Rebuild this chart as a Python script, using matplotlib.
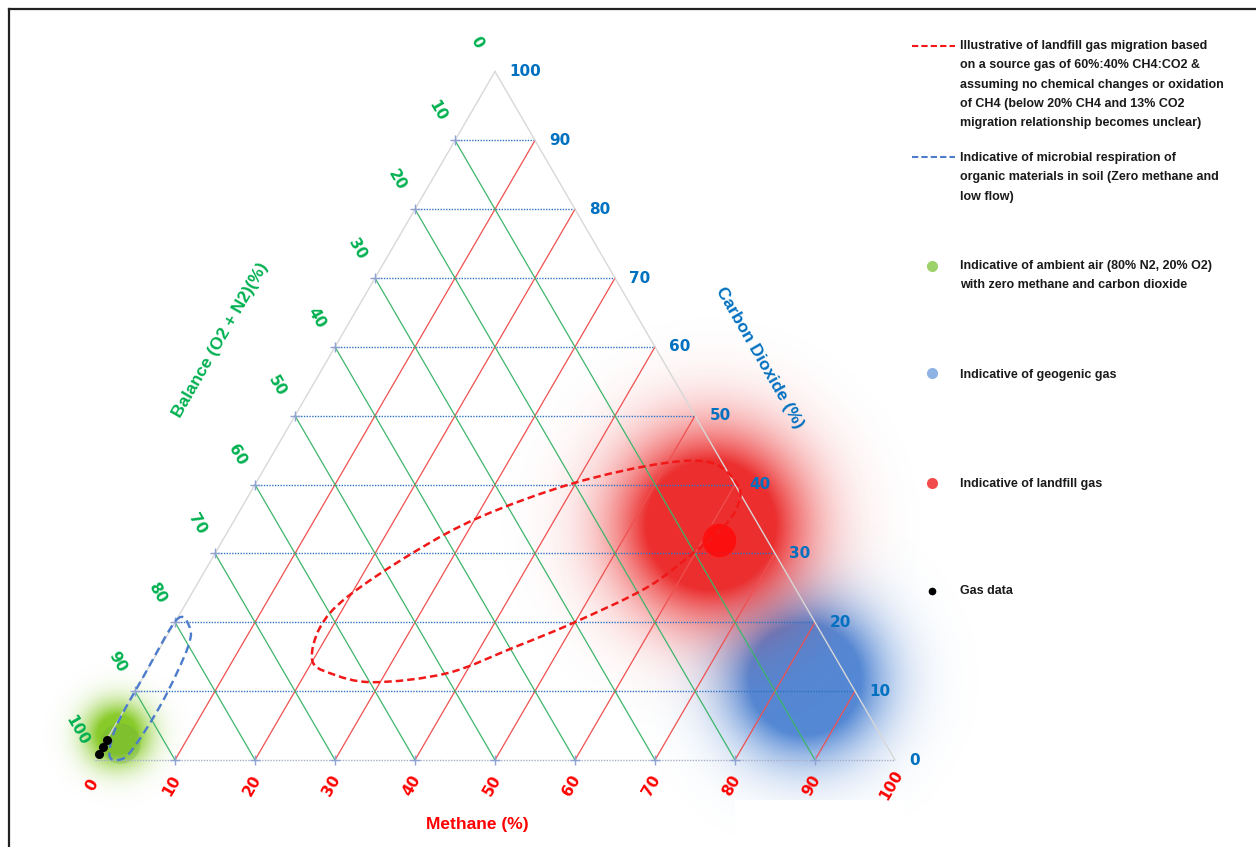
import numpy as np
import matplotlib
matplotlib.use("Agg")
import matplotlib.pyplot as plt
from matplotlib.path import Path
from matplotlib.patches import PathPatch, Rectangle
from matplotlib.lines import Line2D

# ---- data (ternary: methane %, carbon dioxide %) ----
ticks = [0, 10, 20, 30, 40, 50, 60, 70, 80, 90, 100]
grid_levels = [10, 20, 30, 40, 50, 60, 70, 80, 90]

# landfill gas migration envelope (red dashed loop)
mig_ch4 = [60.6, 55.7, 49.5, 39.7, 30.5, 24.7, 19.7, 18.5, 19.9, 23.1, 29.1, 37.7, 44.1, 49.8, 56.5, 60.0, 61.6, 61.9]
mig_co2 = [39.7, 43.1, 43.1, 40.2, 35.3, 30.1, 23.7, 19.3, 14.5, 12.6, 11.3, 12.6, 16.3, 19.9, 25.1, 30.5, 33.8, 36.7]

# microbial respiration envelope (blue dashed loop)
resp_ch4 = [0.0, 2.0, 3.4, 4.2, 3.9, 2.9, 1.4, 0.2, 0.0]
resp_co2 = [20.3, 19.5, 16.5, 8.5, 1.5, 0.0, 0.8, 5.0, 12.0]

# source gas
source_ch4 = 62
source_co2 = 32

# indicative zones (centre ch4, centre co2)
landfill_zone = (60, 34)
geogenic_zone = (83, 11.6)
air_zone = (0.9, 3.6)
air_core = (1.9, 2.5)

# gas data
gas_ch4 = [0.0, 0.0, 0.0]
gas_co2 = [0.9, 1.9, 2.9]

legend_entries = [
    ["Illustrative of landfill gas migration based",
     "on a source gas of 60%:40% CH4:CO2 &",
     "assuming no chemical changes or oxidation",
     "of CH4 (below 20% CH4 and 13% CO2",
     "migration relationship becomes unclear)"],
    ["Indicative of microbial respiration of",
     "organic materials in soil (Zero methane and",
     "low flow)"],
    ["Indicative of ambient air (80% N2, 20% O2)",
     "with zero methane and carbon dioxide"],
    ["Indicative of geogenic gas"],
    ["Indicative of landfill gas"],
    ["Gas data"],
]

RED = "#FF0000"
BLUE = "#0070C0"
GREEN = "#00B050"
H = np.sqrt(3) / 2


def tern(ch4, co2):
    ch4 = np.asarray(ch4, dtype=float)
    co2 = np.asarray(co2, dtype=float)
    return ch4 + co2 / 2, co2 * H


def smooth_closed(xs, ys):
    pts = np.column_stack([xs, ys])
    n = len(pts)
    verts = [pts[0]]
    codes = [Path.MOVETO]
    for i in range(n):
        p0, p1, p2, p3 = pts[i - 1], pts[i], pts[(i + 1) % n], pts[(i + 2) % n]
        verts += [p1 + (p2 - p0) / 6, p2 - (p3 - p1) / 6, p2]
        codes += [Path.CURVE4] * 3
    return Path(verts, codes)


W, HGT = 1256, 847
fig = plt.figure(figsize=(W / 100, HGT / 100), dpi=100)
ax = fig.add_axes([0, 0, 1, 1])
sx, sy = 8.0, 7.95
x0, y0 = 95, 760
ax.set_xlim(-x0 / sx, (W - x0) / sx)
ax.set_ylim(-(HGT - y0) / sy, y0 / sy)
ax.axis("off")

# ---- soft zones ----
xl, yl = ax.get_xlim(), ax.get_ylim()
gx, gy = np.meshgrid(np.linspace(xl[0], xl[1], 700), np.linspace(yl[0], yl[1], 480))


def blob(center, sigma, rgb, gain, amax, zorder):
    cx, cy = tern(*center)
    d2 = (gx - cx) ** 2 + (gy - cy) ** 2
    a = np.clip(gain * np.exp(-d2 / (2 * sigma ** 2)), 0, 1) * amax
    img = np.zeros(gx.shape + (4,))
    img[..., :3] = np.array(rgb) / 255
    img[..., 3] = a
    ax.imshow(img, extent=(xl[0], xl[1], yl[0], yl[1]), origin="lower",
              interpolation="bilinear", zorder=zorder, aspect="auto")


blob(geogenic_zone, 6.2, (75, 130, 210), 1.9, 0.95, 1)
blob(landfill_zone, 7.5, (235, 35, 35), 1.8, 0.95, 1.1)
blob(air_zone, 2.7, (130, 200, 30), 1.5, 0.95, 1.2)
ax.plot(*tern(*air_core), "o", ms=29, color="#6FAE3A", alpha=0.35, mec="none", zorder=1.3)
# white box clipping the bottom of the geogenic zone
ax.add_patch(Rectangle(((735 - x0) / sx, yl[0]), 170 / sx, -(800 - y0) / sy - yl[0],
                       color="white", lw=0, zorder=1.5))

# ---- grid ----
for c in grid_levels:
    xa, ya = tern([0, 100 - c], [c, c])
    ax.plot(xa, ya, color="#2F73C0", lw=1.0, ls=(0, (1, 1)), zorder=2)
for m in grid_levels:
    xa, ya = tern([m, m], [0, 100 - m])
    ax.plot(xa, ya, color="#F05050", lw=0.9, zorder=2)
    xa, ya = tern([m, 0], [0, m])
    ax.plot(xa, ya, color="#3DB56A", lw=0.9, zorder=2)

ex, ey = tern([0, 100, 0, 0], [0, 0, 100, 0])
ax.plot(ex[1:3], ey[1:3], color="#D8D8D8", lw=1.0, zorder=2)
ax.plot(ex[2:4], ey[2:4], color="#D8D8D8", lw=1.0, zorder=2)
ax.plot(ex[0:2], ey[0:2], color="#A8B0C8", lw=1.0, ls=(0, (1, 1)), zorder=2)

px, py = tern(np.zeros(len(grid_levels)), grid_levels)
ax.plot(px, py, "+", color="#8FA3D3", ms=7, mew=1, zorder=2.5)
px, py = tern(grid_levels, np.zeros(len(grid_levels)))
ax.plot(px, py, "+", color="#8FA3D3", ms=7, mew=1, zorder=2.5)

# ---- tick labels ----
lab_font = dict(fontsize=11, fontweight="bold", family="DejaVu Sans")
for t in ticks:
    x, y = tern(100 - t, t)
    ax.text(x + 1.8, y, str(t), color=BLUE, ha="left", va="center", **lab_font)
    x, y = tern(t, 0)
    ax.text(x - 0.4, y - 3.2, str(t), color=RED, ha="center", va="center", rotation=60, **lab_font)
    x, y = tern(0, 100 - t)
    ax.text(x - 2.25, y + 3.7, str(t), color=GREEN, ha="center", va="center", rotation=-60, **lab_font)

# ---- envelopes and points ----
mx, my = tern(mig_ch4, mig_co2)
ax.add_patch(PathPatch(smooth_closed(mx, my), fill=False, ec="#F01818", lw=1.8,
                       ls=(0, (3, 1.6)), zorder=4))
rx, ry = tern(resp_ch4, resp_co2)
ax.add_patch(PathPatch(smooth_closed(rx, ry), fill=False, ec="#4C7CCB", lw=1.7,
                       ls=(0, (3.5, 2)), zorder=4))
ax.plot(*tern(source_ch4, source_co2), "o", ms=25, color="#FF0A0A", alpha=0.85, mec="#F03030", zorder=3.5)
gxs, gys = tern(gas_ch4, gas_co2)
ax.plot(gxs, gys, "o", ms=5.5, color="black", zorder=5)

# ---- overlay in pixel units: titles, legend, frame ----
ov = fig.add_axes([0, 0, 1, 1])
ov.set_xlim(0, W)
ov.set_ylim(HGT, 0)
ov.axis("off")
ov.patch.set_alpha(0)

title_font = dict(fontsize=12.5, fontweight="bold", family="Liberation Sans")
ov.text(477, 825, "Methane (%)", color=RED, ha="center", va="center", **title_font)
ov.text(760, 358, "Carbon Dioxide (%)", color=BLUE, ha="center", va="center", rotation=-60, **title_font)
ov.text(220, 340, "Balance (O2 + N2)(%)", color=GREEN, ha="center", va="center", rotation=60, **title_font)

starts = [46, 158, 266, 375, 484, 591]
step = 19.3
leg_font = dict(fontsize=9, fontweight="bold", family="Liberation Sans", color="#1A1A1A")
for lines, ys in zip(legend_entries, starts):
    for k, line in enumerate(lines):
        ov.text(960, ys + k * step, line, ha="left", va="center", **leg_font)

ov.add_line(Line2D([912, 955], [46, 46], color="#F01818", lw=1.5, ls=(0, (3, 1.5))))
ov.add_line(Line2D([912, 955], [157, 157], color="#4C7CCB", lw=1.5, ls=(0, (3, 1.5))))
ov.plot(932, 266, "o", ms=8, color="#8CCB50", mec="none", alpha=0.85)
ov.plot(932, 373, "o", ms=8, color="#7AA5E0", mec="none", alpha=0.85)
ov.plot(932, 483, "o", ms=8, color="#F03A3A", mec="none", alpha=0.9)
ov.plot(932, 591, "o", ms=4.5, color="black")

ov.add_line(Line2D([9, W], [9, 9], color="#222222", lw=1.6))
ov.add_line(Line2D([9, 9], [9, HGT], color="#222222", lw=1.6))

fig.savefig("out.png", dpi=100, facecolor="white")
